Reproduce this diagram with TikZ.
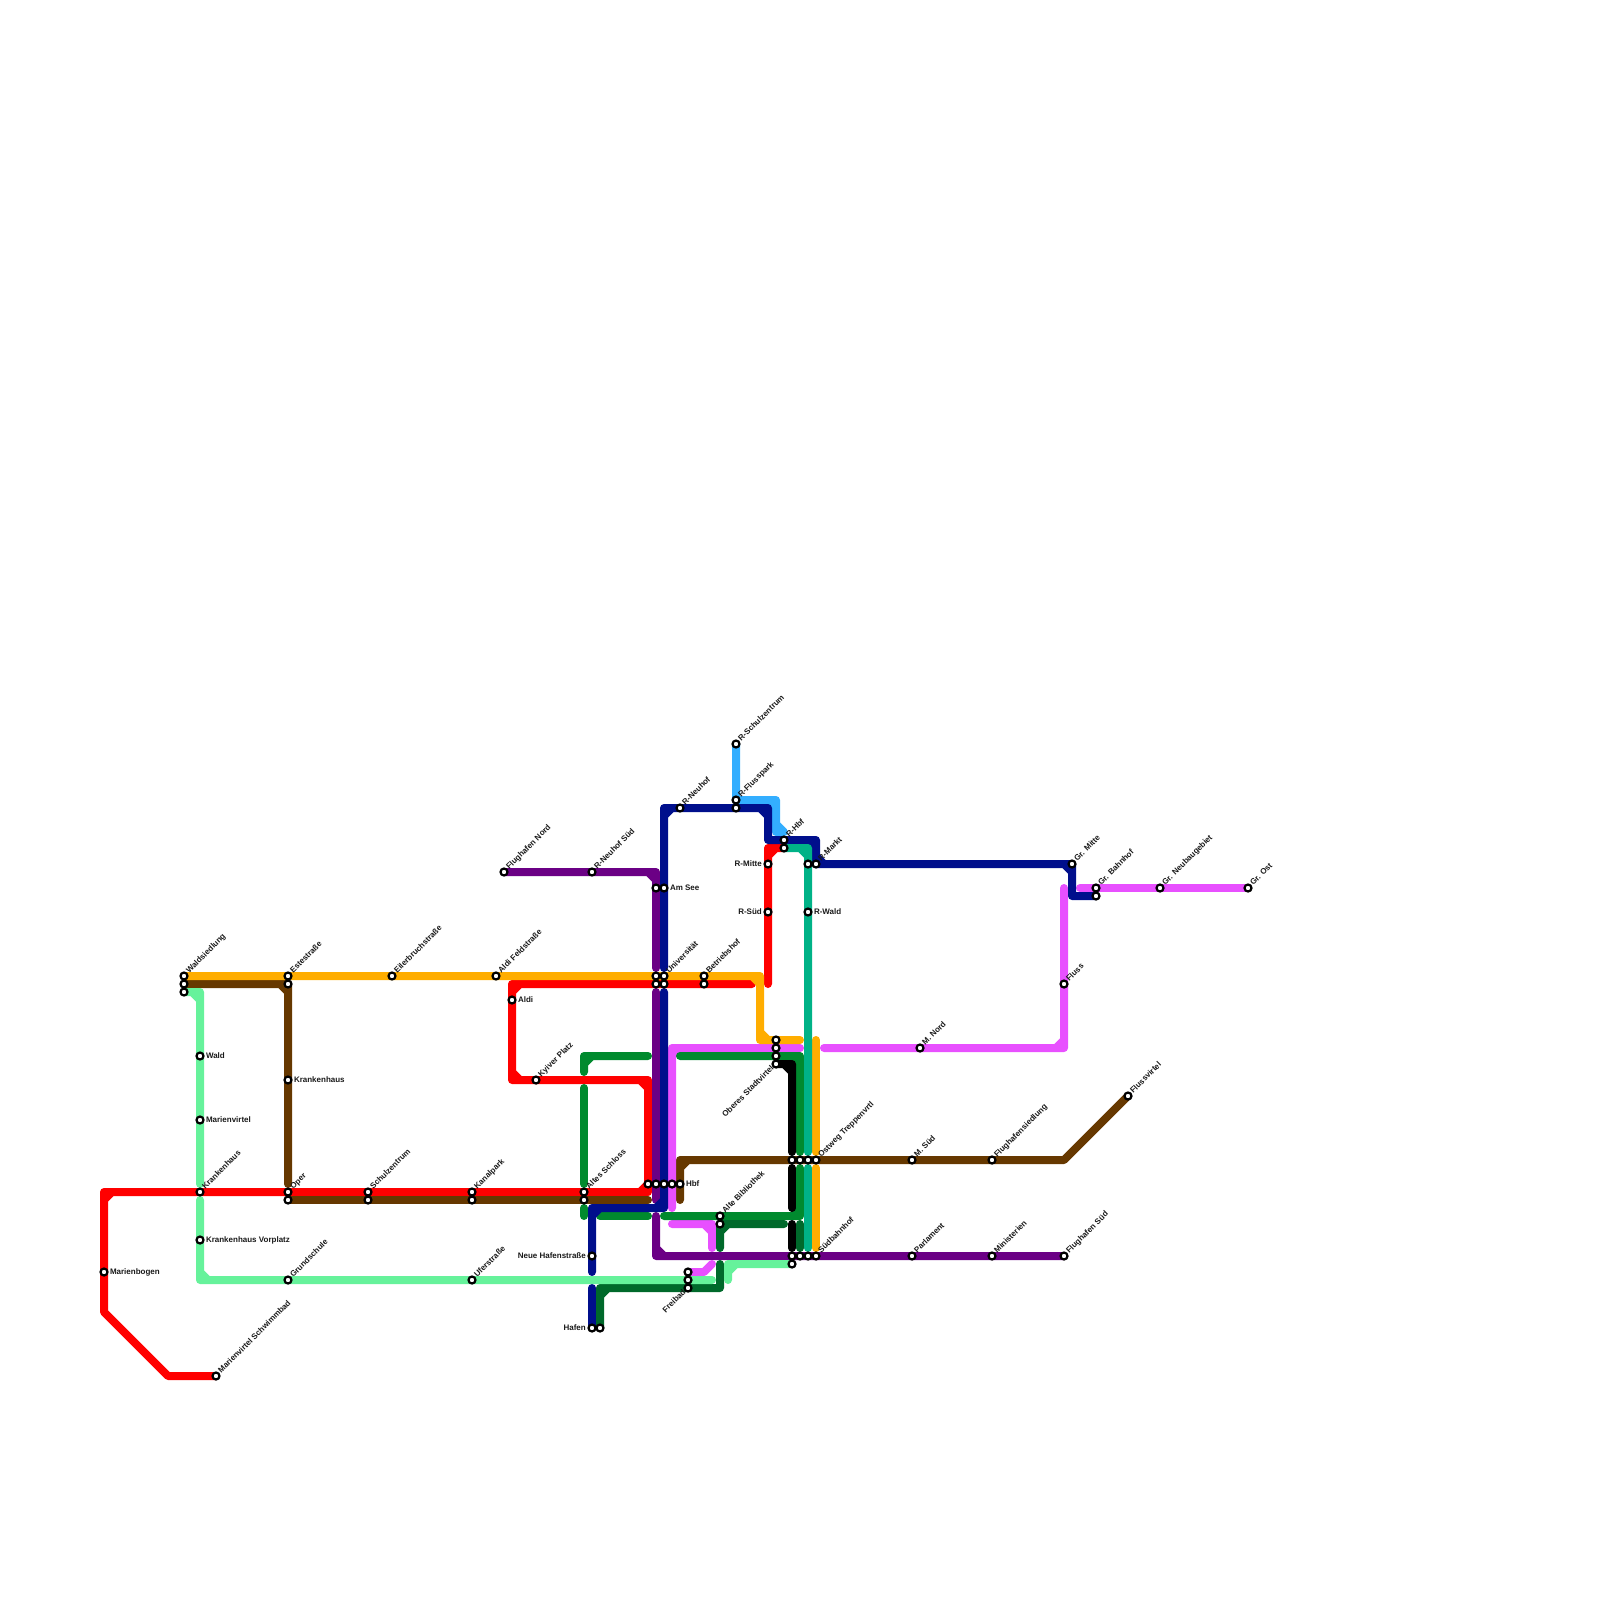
\documentclass[tikz,border=0pt]{standalone}
\usepackage{fontspec}
\setmainfont{Liberation Sans}

\definecolor{lred}{HTML}{FF0000}
\definecolor{lbrown}{HTML}{663800}
\definecolor{lpurple}{HTML}{6B0085}
\definecolor{lnavy}{HTML}{000F8C}
\definecolor{lsky}{HTML}{33AEFF}
\definecolor{lteal}{HTML}{00B287}
\definecolor{lgreen}{HTML}{008A2E}
\definecolor{ldark}{HTML}{00692B}
\definecolor{lmint}{HTML}{66F29B}
\definecolor{lmag}{HTML}{E850FF}
\definecolor{lyellow}{HTML}{FFAD00}

\pgfdeclarelayer{lines}
\pgfsetlayers{lines,main}

\tikzset{
  metro/.style={line width=8pt, line cap=round, line join=round},
  stn/.style={circle, draw=black, fill=white, line width=2.2pt, inner sep=0pt, minimum size=7pt},
  lab/.style={font=\fontsize{8}{9}\selectfont\bfseries, inner sep=0pt, text=black!90},
  labne/.style={label={[lab, rotate=45, yshift=-2.8pt, anchor=base west, label distance=1pt]45:#1}},
  labsw/.style={label={[lab, rotate=45, xshift=0.3pt, yshift=0.7pt, anchor=mid east, label distance=0.3pt]225:#1}},
  labe/.style={label={[lab, anchor=mid west, label distance=1.2pt]0:#1}},
  labw/.style={label={[lab, anchor=mid east, label distance=1.4pt]180:#1}}
}

\begin{document}
\begin{tikzpicture}[x=8pt, y=-8pt]
\useasboundingbox (0,0) rectangle (200,200);

%% ---- Stationen links ----
\node[stn, labe=Marienbogen] (marienbogen) at (13,159) {};
\node[stn, labne=Marienvirtel Schwimmbad] (schwimmbad) at (27,172) {};
\node[stn, labne=Waldsiedlung] (waldA) at (23,122) {};
\node[stn] (waldB) at (23,123) {};
\node[stn] (waldC) at (23,124) {};
\node[stn, labe=Wald] (wald) at (25,132) {};
\node[stn, labe=Marienvirtel] (marienvirtel) at (25,140) {};
\node[stn, labne=Krankenhaus] (krankenA) at (25,149) {};
\node[stn, labe=Krankenhaus Vorplatz] (vorplatz) at (25,155) {};
\node[stn, labne=Estestraße] (esteA) at (36,122) {};
\node[stn] (esteB) at (36,123) {};
\node[stn, labe=Krankenhaus] (krankenB) at (36,135) {};
\node[stn, labne=Oper] (operA) at (36,149) {};
\node[stn] (operB) at (36,150) {};
\node[stn, labne=Grundschule] (grundschule) at (36,160) {};
\node[stn, labne=Schulzentrum] (schulA) at (46,149) {};
\node[stn] (schulB) at (46,150) {};
\node[stn, labne=Eilerbruchstraße] (eilerbruch) at (49,122) {};
\node[stn, labne=Kanalpark] (kanalA) at (59,149) {};
\node[stn] (kanalB) at (59,150) {};
\node[stn, labne=Uferstraße] (ufer) at (59,160) {};

%% ---- Stationen Mitte ----
\node[stn, labne=Aldi Feldstraße] (feldstr) at (62,122) {};
\node[stn, labne=Flughafen Nord] (flughafenN) at (63,109) {};
\node[stn, labe=Aldi] (aldi) at (64,125) {};
\node[stn, labne=Kyiver Platz] (kyiver) at (67,135) {};
\node[stn, labne=Altes Schloss] (schlossA) at (73,149) {};
\node[stn] (schlossB) at (73,150) {};
\node[stn, labne=R-Neuhof Süd] (neuhofS) at (74,109) {};
\node[stn, labw=Neue Hafenstraße] (neuehafen) at (74,157) {};
\node[stn, labw=Hafen] (hafenA) at (74,166) {};
\node[stn] (hafenB) at (75,166) {};
\node[stn] (seeA) at (82,111) {};
\node[stn, labe=Am See] (seeB) at (83,111) {};
\node[stn] (uniA) at (82,122) {};
\node[stn, labne=Universität] (uniB) at (83,122) {};
\node[stn] (uniC) at (82,123) {};
\node[stn] (uniD) at (83,123) {};
\node[stn] (hbfA) at (81,148) {};
\node[stn] (hbfB) at (82,148) {};
\node[stn] (hbfC) at (83,148) {};
\node[stn] (hbfD) at (84,148) {};
\node[stn, labe=Hbf] (hbfE) at (85,148) {};
\node[stn, labne=R-Neuhof] (neuhof) at (85,101) {};
\node[stn, labne=Betriebshof] (betriebA) at (88,122) {};
\node[stn] (betriebB) at (88,123) {};
\node[stn] (freibadA) at (86,159) {};
\node[stn] (freibadB) at (86,160) {};
\node[stn, labsw=Freibad] (freibadC) at (86,161) {};
\node[stn, labne=Alte Bibliothek] (bibA) at (90,152) {};
\node[stn] (bibB) at (90,153) {};

%% ---- Stationen R ----
\node[stn, labne=R-Schulzentrum] (rschul) at (92,93) {};
\node[stn, labne=R-Flusspark] (rflussA) at (92,100) {};
\node[stn] (rflussB) at (92,101) {};
\node[stn, labw=R-Mitte] (rmitte) at (96,108) {};
\node[stn, labw=R-Süd] (rsued) at (96,114) {};
\node[stn, labne=R-Hbf] (rhbfA) at (98,105) {};
\node[stn] (rhbfB) at (98,106) {};
\node[stn] (rmarktA) at (101,108) {};
\node[stn, labne=R-Markt] (rmarktB) at (102,108) {};
\node[stn, labe=R-Wald] (rwald) at (101,114) {};

%% ---- Oberes Stadtvirtel, Ostweg, Suedbahnhof ----
\node[stn] (oberesA) at (97,130) {};
\node[stn] (oberesB) at (97,131) {};
\node[stn] (oberesC) at (97,132) {};
\node[stn, labsw=Oberes Stadtvirtel] (oberesD) at (97,133) {};
\node[stn] (ostA) at (99,145) {};
\node[stn] (ostB) at (100,145) {};
\node[stn] (ostC) at (101,145) {};
\node[stn, labne=Ostweg Treppenvrtl] (ostD) at (102,145) {};
\node[stn] (suedA) at (99,157) {};
\node[stn] (suedB) at (100,157) {};
\node[stn] (suedC) at (101,157) {};
\node[stn, labne=Südbahnhof] (suedD) at (102,157) {};
\node[stn] (suedE) at (99,158) {};

%% ---- Stationen rechts ----
\node[stn, labne=M. Nord] (mnord) at (115,131) {};
\node[stn, labne=M. Süd] (msued) at (114,145) {};
\node[stn, labne=Parlament] (parlament) at (114,157) {};
\node[stn, labne=Flughafensiedlung] (fhsiedlung) at (124,145) {};
\node[stn, labne=Ministerien] (ministerien) at (124,157) {};
\node[stn, labne=Fluss] (fluss) at (133,123) {};
\node[stn, labne=Flughafen Süd] (flughafenS) at (133,157) {};
\node[stn, labne=Gr. Mitte] (grmitte) at (134,108) {};
\node[stn, labne=Gr. Bahnhof] (grbfA) at (137,111) {};
\node[stn] (grbfB) at (137,112) {};
\node[stn, labne=Flussvirtel] (flussvirtel) at (141,137) {};
\node[stn, labne=Gr. Neubaugebiet] (grneu) at (145,111) {};
\node[stn, labne=Gr. Ost] (grost) at (156,111) {};

\begin{pgfonlayer}{lines}
%% ---- Rot ----
\draw[metro, lred] (schwimmbad.center) -- (21,172) -- (13,164) -- (13,149) -- (81,149) -- (hbfA.center)
    (13,150) -- (14,149) (80,149) -- (81,148);
\draw[metro, lred] (hbfA.center) -- (81,135) -- (64,135) -- (64,123) -- (94,123)
    (80,135) -- (81,136) (64,134) -- (65,135) (64,124) -- (65,123);
\draw[metro, lred] (96,123) -- (96,106) -- (rhbfB.center) (96,107) -- (97,106);

%% ---- Braun ----
\draw[metro, lbrown] (waldB.center) -- (36,123) -- (36,148) (35,123) -- (36,124);
\draw[metro, lbrown] (operB.center) -- (81,150);
\draw[metro, lbrown] (flussvirtel.center) -- (133,145) -- (85,145) -- (85,150) (85,146) -- (86,145);

%% ---- Violett ----
\draw[metro, lpurple] (flughafenN.center) -- (82,109) -- (82,121) (81,109) -- (82,110);
\draw[metro, lpurple] (82,124) -- (82,150);
\draw[metro, lpurple] (82,152) -- (82,157) -- (flughafenS.center) (82,156) -- (83,157);

%% ---- Magenta ----
\draw[metro, lmag] (grost.center) -- (135,111);
\draw[metro, lmag] (133,111) -- (133,131) -- (103,131) (132,131) -- (133,130);
\draw[metro, lmag] (100,131) -- (84,131) -- (84,151) (85,131) -- (84,132);
\draw[metro, lmag] (84,153) -- (89,153) -- (89,156) (88,153) -- (89,154);
\draw[metro, lmag] (freibadA.center) -- (88,159) -- (89,158);

%% ---- Gruen ----
\draw[metro, lgreen] (81,132) -- (73,132) -- (73,134) (74,132) -- (73,133);
\draw[metro, lgreen] (73,136) -- (73,148);
\draw[metro, lgreen] (73,151) -- (73,152);
\draw[metro, lgreen] (75,152) -- (81,152);
\draw[metro, lgreen] (83,152) -- (100,152) -- (100,146) (99,152) -- (100,151);
\draw[metro, lgreen] (100,144) -- (100,132) -- (85,132) (100,133) -- (99,132);

%% ---- Dunkelgruen ----
\draw[metro, ldark] (hafenB.center) -- (75,161) -- (90,161) -- (90,158) (75,162) -- (76,161);
\draw[metro, ldark] (90,156) -- (bibB.center) -- (98,153) (90,154) -- (91,153);
\draw[metro, ldark] (100,153) -- (100,156);

%% ---- Schwarz ----
\draw[metro, black] (oberesD.center) -- (99,133) -- (99,144) (98,133) -- (99,134);
\draw[metro, black] (99,146) -- (99,151);
\draw[metro, black] (99,153) -- (99,156);

%% ---- Hellblau ----
\draw[metro, lsky] (rschul.center) -- (92,100) -- (97,100) -- (97,104) -- (98,104) (96,100) -- (97,101) (97,103) -- (98,104);

%% ---- Dunkelblau ----
\draw[metro, lnavy] (hafenA.center) -- (74,161);
\draw[metro, lnavy] (74,159) -- (74,151) -- (83,151) -- (83,124) (74,152) -- (75,151) (82,151) -- (83,150);
\draw[metro, lnavy] (83,121) -- (83,101) -- (96,101) -- (96,105) -- (102,105) -- (102,108) -- (grmitte.center) -- (134,112) -- (grbfB.center)
    (83,102) -- (84,101) (95,101) -- (96,102) (101,105) -- (102,106) (102,107) -- (103,108) (133,108) -- (134,109);

%% ---- Gelb ----
\draw[metro, lyellow] (waldA.center) -- (95,122) -- (95,130) -- (100,130) (94,122) -- (95,123) (95,129) -- (96,130);
\draw[metro, lyellow] (102,130) -- (102,144);
\draw[metro, lyellow] (102,146) -- (102,156);

%% ---- Tuerkis ----
\draw[metro, lteal] (rhbfB.center) -- (101,106) -- (101,144) (100,106) -- (101,107);
\draw[metro, lteal] (101,146) -- (101,156);

%% ---- Mint ----
\draw[metro, lmint] (waldC.center) -- (25,124) -- (25,148) (24,124) -- (25,125);
\draw[metro, lmint] (25,150) -- (25,160) -- (89,160) (25,159) -- (26,160);
\draw[metro, lmint] (suedE.center) -- (91,158) -- (91,160) (91,159) -- (92,158);
\end{pgfonlayer}

\end{tikzpicture}
\end{document}
